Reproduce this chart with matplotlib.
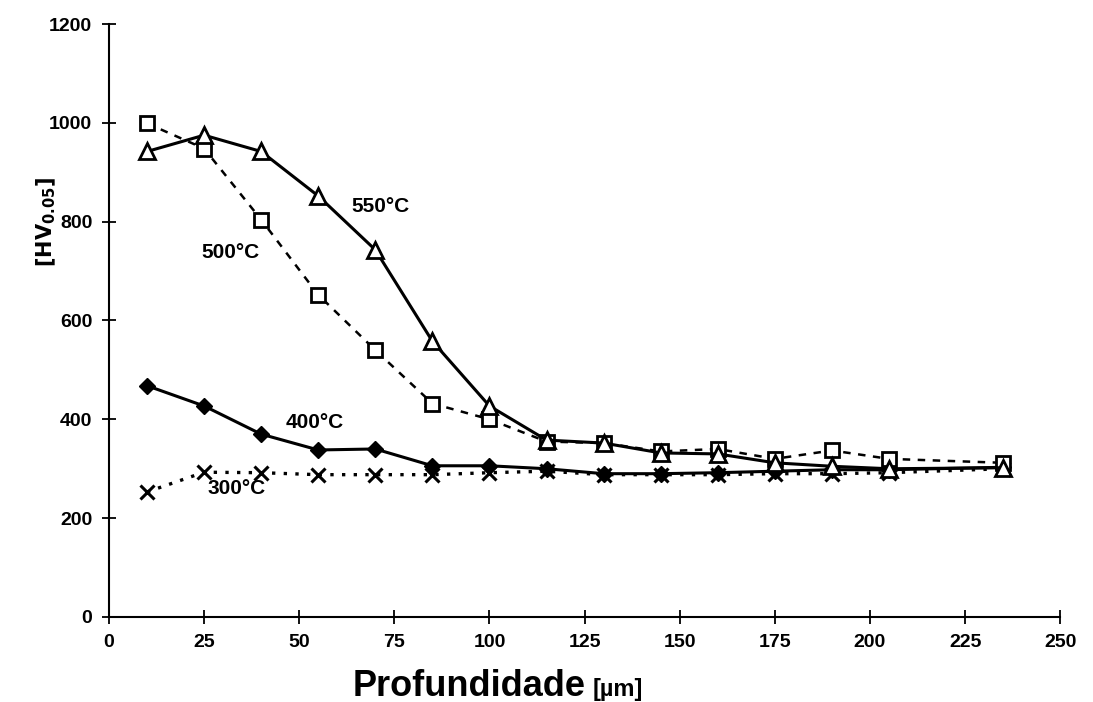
import numpy as np
import matplotlib.pyplot as plt

plt.rcParams['font.family'] = ['Liberation Sans', 'DejaVu Sans']

depth = [10, 25, 40, 55, 70, 85, 100, 115, 130, 145, 160, 175, 190, 205, 235]
hv_550 = [942, 975, 942, 852, 743, 558, 427, 358, 352, 332, 330, 312, 305, 300, 302]
hv_500 = [999, 948, 804, 652, 540, 432, 400, 355, 352, 335, 340, 320, 337, 320, 312]
hv_400 = [468, 427, 370, 338, 340, 306, 306, 300, 290, 290, 292, 295, 298, 298, 303]
hv_300 = [253, 293, 292, 288, 288, 288, 292, 295, 288, 288, 288, 290, 290, 292, 300]

labels = ["550°C", "500°C", "400°C", "300°C"]
label_pos = [(71.5, 830), (32, 737), (54, 393), (33.5, 261)]

fig = plt.figure(figsize=(10.93, 7.02), dpi=100)
ax = fig.add_axes([0.0997, 0.1211, 0.8703, 0.8447])

ax.plot(depth, hv_300, color='black', lw=2.4, ls=(0, (1, 2.5)), marker='x',
        ms=10, mew=2.2, zorder=2)
ax.plot(depth, hv_400, color='black', lw=2.2, ls='-', marker='D',
        ms=8, mfc='black', mec='black', zorder=3)
ax.plot(depth, hv_500, color='black', lw=1.8, ls=(0, (3, 3)), marker='s',
        ms=10, mfc='white', mec='black', mew=2, zorder=4)
ax.plot(depth, hv_550, color='black', lw=2.2, ls='-', marker='^',
        ms=11, mfc='white', mec='black', mew=2, zorder=5)

for txt, (tx, ty) in zip(labels, label_pos):
    ax.text(tx, ty, txt, ha='center', va='center', fontsize=15,
            fontweight='bold', zorder=6)

ax.set_xlim(0, 250)
ax.set_ylim(0, 1200)
ax.set_xticks(np.arange(0, 251, 25))
ax.set_yticks(np.arange(0, 1201, 200))
ax.spines['top'].set_visible(False)
ax.spines['right'].set_visible(False)
ax.spines['left'].set_linewidth(1.5)
ax.spines['bottom'].set_linewidth(1.5)
ax.tick_params(direction='inout', length=10, width=1.3, labelsize=14, pad=7)
for lab in ax.get_xticklabels() + ax.get_yticklabels():
    lab.set_fontweight('bold')

ax.set_ylabel(r"$\mathbf{[HV_{0.05}]}$", fontsize=15)
ax.yaxis.set_label_coords(-0.054, 0.666)

# axis title: large word, smaller unit on the same baseline
ax.text(0.2566, -0.133, "Profundidade", transform=ax.transAxes, ha='left',
        va='baseline', fontsize=26, fontweight='bold')
ax.text(0.508, -0.133, "[µm]", transform=ax.transAxes, ha='left',
        va='baseline', fontsize=17, fontweight='bold')

fig.savefig("out.png", dpi=100)
